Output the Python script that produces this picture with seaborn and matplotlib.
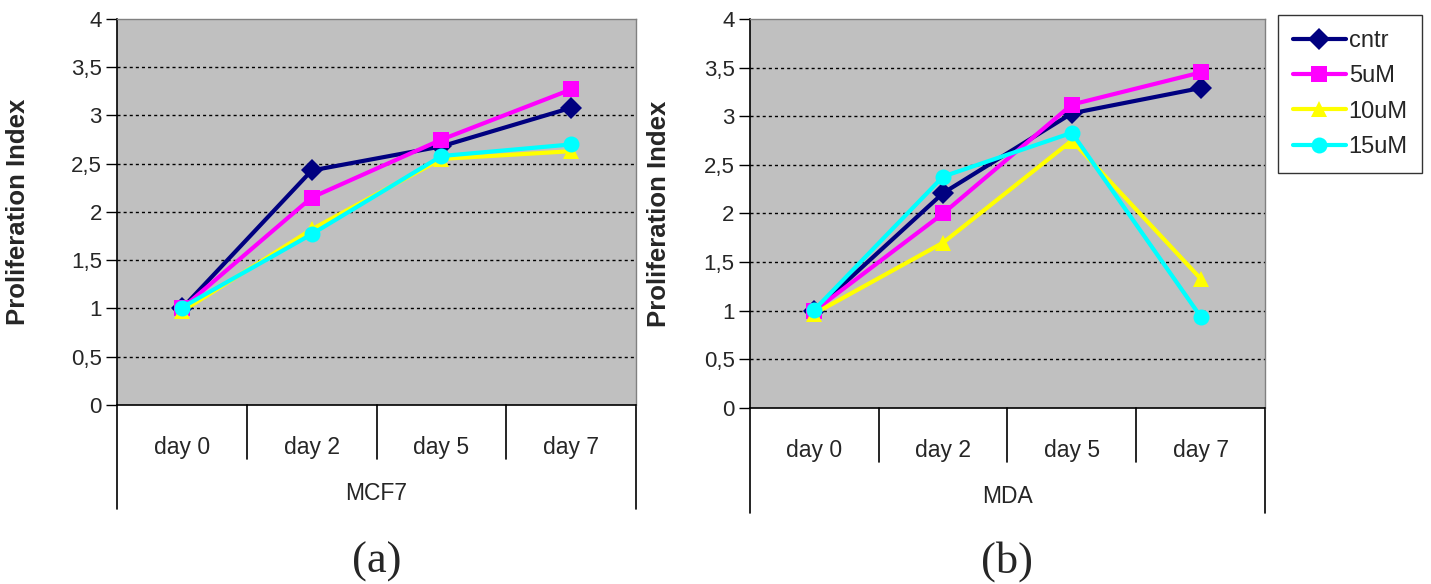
import pandas as pd
import matplotlib
matplotlib.use("Agg")
import matplotlib.pyplot as plt
import seaborn as sns
from matplotlib.ticker import FuncFormatter

# data
days = ["day 0", "day 2", "day 5", "day 7"]
series = ["cntr", "5uM", "10uM", "15uM"]

mcf7_cntr = [1.00, 2.43, 2.68, 3.08]
mcf7_5uM = [1.00, 2.15, 2.75, 3.27]
mcf7_10uM = [0.97, 1.82, 2.55, 2.63]
mcf7_15uM = [1.01, 1.77, 2.58, 2.70]

mda_cntr = [1.00, 2.21, 3.03, 3.29]
mda_5uM = [1.00, 2.00, 3.12, 3.45]
mda_10uM = [0.97, 1.70, 2.75, 1.33]
mda_15uM = [1.01, 2.38, 2.83, 0.94]

colors = {"cntr": "#000080", "5uM": "#FF00FF", "10uM": "#FFFF00", "15uM": "#00FFFF"}
markers = {"cntr": "D", "5uM": "s", "10uM": "^", "15uM": "o"}


def to_long(vals):
    rows = []
    for name, ys in zip(series, vals):
        for i, y in enumerate(ys):
            rows.append({"pos": i, "value": y, "group": name})
    return pd.DataFrame(rows)


df_mcf7 = to_long([mcf7_cntr, mcf7_5uM, mcf7_10uM, mcf7_15uM])
df_mda = to_long([mda_cntr, mda_5uM, mda_10uM, mda_15uM])

sns.set_style("white")
plt.rcParams["font.family"] = ["Liberation Sans", "DejaVu Sans"]

fig = plt.figure(figsize=(14.31, 5.84), dpi=100)
ax1 = fig.add_axes([0.0818, 0.3065, 0.3627, 0.6610])
ax2 = fig.add_axes([0.5241, 0.3014, 0.3599, 0.6661])


def style_panel(ax, df, group_label, ylab_x):
    sns.lineplot(data=df, x="pos", y="value", hue="group", style="group",
                 hue_order=series, style_order=series, palette=colors,
                 markers=markers, dashes=False, linewidth=3,
                 markersize=11.5, markeredgewidth=0, ax=ax, legend=True)
    ax.set_facecolor("#C0C0C0")
    ax.set_xlim(-0.5, 3.5)
    ax.set_ylim(0, 4)
    ax.set_yticks([0, 0.5, 1, 1.5, 2, 2.5, 3, 3.5, 4])
    ax.yaxis.set_major_formatter(FuncFormatter(lambda v, p: f"{v:g}".replace(".", ",")))
    ax.tick_params(axis="y", which="major", left=True, length=8, width=1,
                   color="black", labelsize=16, pad=3)
    ax.set_xticks(range(len(days)))
    ax.set_xticklabels(days)
    ax.tick_params(axis="x", bottom=False, length=0, labelsize=16.5, pad=22)
    ax.yaxis.grid(True, color="black", linestyle=(0, (2.2, 2.2)), linewidth=1)
    ax.xaxis.grid(False)
    gl = ax.get_ygridlines()
    gl[0].set_visible(False)
    gl[-1].set_visible(False)
    for s in ["left", "bottom"]:
        ax.spines[s].set_color("black")
        ax.spines[s].set_linewidth(1.2)
    for s in ["top", "right"]:
        ax.spines[s].set_color("#808080")
        ax.spines[s].set_linewidth(1)
    # category table lines under the axis
    tr = ax.get_xaxis_transform()
    for xb in [0.5, 1.5, 2.5]:
        ax.plot([xb, xb], [0, -0.14], transform=tr, color="black", lw=1.2, clip_on=False)
    for xb in [-0.5, 3.5]:
        ax.plot([xb, xb], [0, -0.27], transform=tr, color="black", lw=1.2, clip_on=False)
    ax.set_xlabel("")
    ax.text(0.5, -0.228, group_label, transform=ax.transAxes, ha="center",
            va="center", fontsize=16.5)
    ax.set_ylabel("Proliferation Index", fontsize=18.5, fontweight="bold")
    ax.yaxis.set_label_coords(ylab_x, 0.5)


style_panel(ax1, df_mcf7, "MCF7", -0.168)
style_panel(ax2, df_mda, "MDA", -0.153)

# panel letters under each chart
for ax, lab in [(ax1, "(a)"), (ax2, "(b)")]:
    pos = ax.get_position()
    fig.text((pos.x0 + pos.x1) / 2, 0.038, lab, ha="center", va="center",
             fontsize=32, family="Liberation Serif")

ax1.get_legend().remove()
handles, labels = ax2.get_legend_handles_labels()
ax2.get_legend().remove()
leg = fig.legend(handles, labels, loc="upper left", bbox_to_anchor=(0.8931, 0.974),
                 borderaxespad=0, frameon=True, fontsize=17, handlelength=2.25,
                 handletextpad=0.12, labelspacing=0.57, borderpad=0.62, fancybox=False)
leg.get_frame().set_edgecolor("black")
leg.get_frame().set_linewidth(1)
for h in leg.legend_handles:
    h.set_markersize(11.5)

fig.savefig("out.png", dpi=100)
